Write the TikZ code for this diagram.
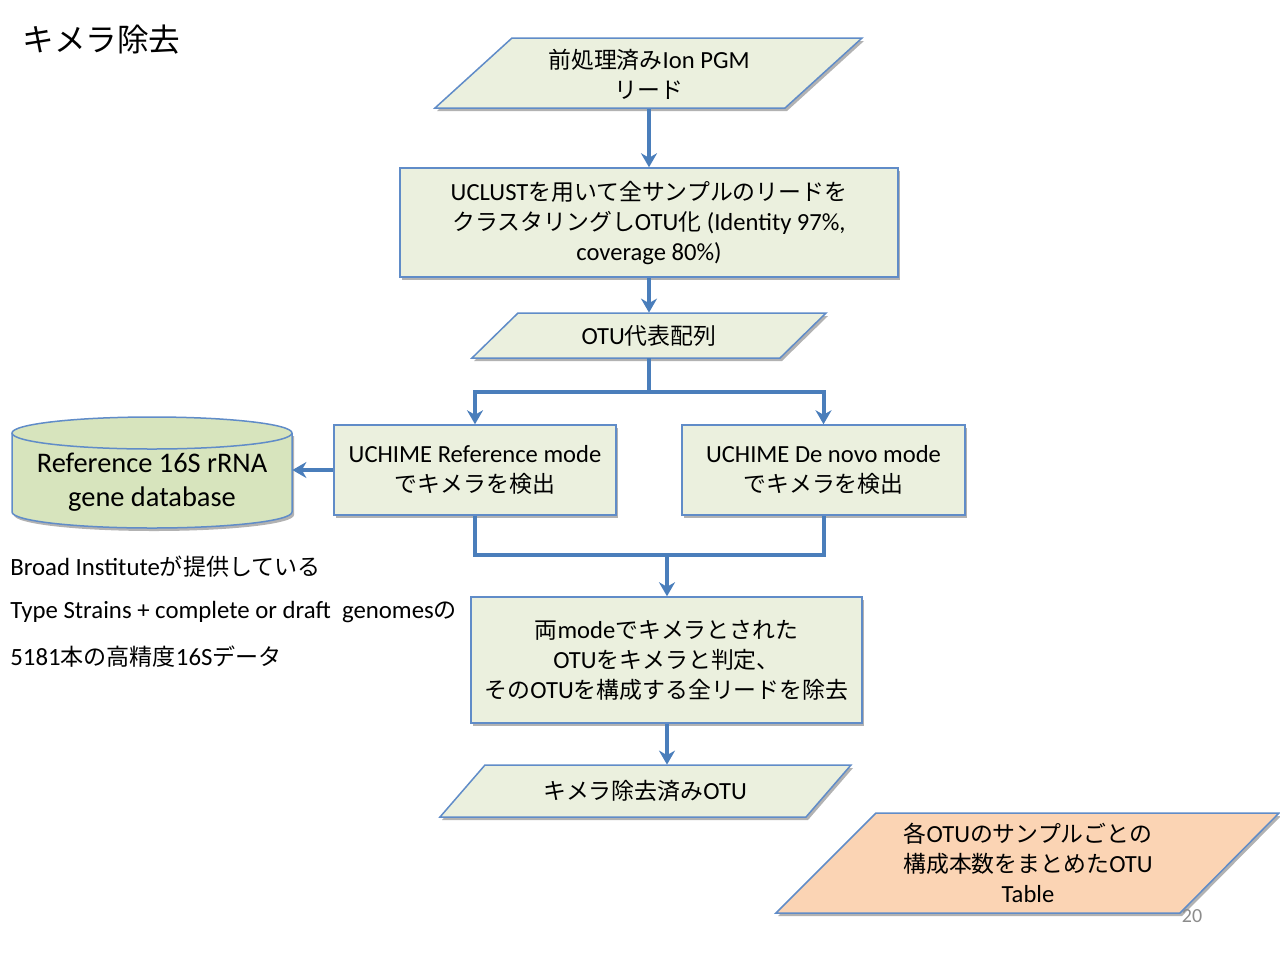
\documentclass[tikz,border=0pt]{standalone}
\usepackage{fontspec}
\setmainfont{Carlito}
\newfontfamily\jp{Noto Sans CJK JP}[Scale=0.93]
\newcommand{\ja}[1]{{\jp #1}}
\usepackage{tikz}
\usetikzlibrary{arrows.meta, shadows, calc}
\definecolor{flowblue}{RGB}{74,126,187}
\definecolor{edgeblue}{RGB}{96,140,200}
\definecolor{boxfill}{RGB}{235,240,222}
\definecolor{dbfill}{RGB}{215,228,189}
\definecolor{tablefill}{RGB}{251,212,180}
\definecolor{pagegray}{RGB}{140,140,140}

\tikzset{
    shade box/.style={drop shadow={shadow xshift=1pt, shadow yshift=-1.5pt, opacity=0.3, fill=black}},
    procbox/.style={draw=edgeblue, line width=0.75pt, fill=boxfill, shade box, align=center,
        font=\fontsize{12.3}{15}\selectfont, inner sep=2pt},
    para/.style={draw=edgeblue, line width=0.75pt, shade box},
    paratext/.style={align=center, font=\fontsize{12.3}{15}\selectfont, inner sep=0pt},
    flow/.style={draw=flowblue, line width=2pt, -{Stealth[length=7pt, width=8pt]}},
    link/.style={draw=flowblue, line width=2pt},
    note/.style={anchor=west, font=\fontsize{12.4}{14}\selectfont, inner sep=0pt}
}

\begin{document}
\begin{tikzpicture}[x=0.5pt, y=-0.5pt]
    \useasboundingbox (0,0) rectangle (1280,960);
    \fill[white] (0,0) rectangle (1280,960);

    \node[anchor=west, inner sep=0pt, font=\fontsize{17}{19}\selectfont] (title) at (22,40) {\ja{キメラ除去}};

    % parallelogram outlines (data / input-output)
    \foreach \a/\b/\c/\d/\ya/\yb/\col in {
        512/862/785/435/38/108/boxfill,    %   reads
        518/826/780/472/313/358/boxfill,   %   representative sequences
        485/851/806/440/765/817/boxfill,   %   chimera-free OTU
        876/1279/1180/776/813/913/tablefill} %   OTU table
        \draw[para, fill=\col] (\a,\ya) -- (\b,\ya) -- (\c,\yb) -- (\d,\yb) -- cycle;

    \node[paratext, minimum height=35pt] (reads) at (649,74) {\ja{前処理済み}Ion PGM\\\ja{リード}};
    \node[paratext, minimum height=22.5pt] (repseq) at (649,335.5) {OTU\ja{代表配列}};
    \node[paratext, minimum height=26pt] (clean) at (645,791) {\ja{キメラ除去済み}OTU};
    \node[paratext, minimum height=50pt] (table) at (1028,863) {\ja{各}OTU\ja{のサンプルごとの}\\\ja{構成本数をまとめた}OTU\\Table};

    % process boxes
    \node[procbox, minimum width=249pt, minimum height=54.5pt] (uclust) at (649,222.5)
        {UCLUST\ja{を用いて全サンプルのリードを}\\\ja{クラスタリングし}OTU\ja{化} (Identity 97\%,\\coverage 80\%)};
    \node[procbox, minimum width=141pt, minimum height=45pt] (refmode) at (475,470)
        {UCHIME Reference mode\\\ja{でキメラを検出}};
    \node[procbox, minimum width=141.5pt, minimum height=45pt] (denovo) at (823.5,470)
        {UCHIME De novo mode\\\ja{でキメラを検出}};
    \node[procbox, minimum width=195.5pt, minimum height=63pt] (judge) at (666.5,660)
        {\ja{両}mode\ja{でキメラとされた}\\OTU\ja{をキメラと判定、}\\\ja{その}OTU\ja{を構成する全リードを除去}};

    % reference database cylinder
    \fill[dbfill, shade box] (12,433) -- (12,512) arc[start angle=180, end angle=0, x radius=140, y radius=16] -- (292,433) -- cycle;
    \draw[edgeblue, line width=0.75pt] (12,433) -- (12,512) arc[start angle=180, end angle=0, x radius=140, y radius=16] -- (292,433);
    \draw[edgeblue, line width=0.75pt, fill=dbfill] (152,433) ellipse[x radius=140, y radius=16];
    \node[align=center, inner sep=0pt, minimum width=140pt, font=\fontsize{14.2}{17}\selectfont] (refdb) at (152,482)
        {Reference 16S rRNA\\gene database};

    \foreach \t [count=\i] in {
        {Broad Institute\ja{が提供している}},
        {Type Strains + complete or draft\ \ genomes\ja{の}},
        {5181\ja{本の高精度}16S\ja{データ}}}
        \node[note] (note\i) at (10,522+45*\i) {\t};

    \node[inner sep=0pt, text=pagegray, font=\fontsize{10}{12}\selectfont] (page) at (1192,916) {20};

    % connectors
    \coordinate (split) at (649,392);
    \coordinate (merge) at (667,555);
    \draw[flow] (reads.south) -- (uclust.north);
    \draw[flow] (uclust.south) -- (repseq.north);
    \draw[link] (repseq.south) -- (split);
    \draw[flow] (split) -| (refmode.north);
    \draw[flow] (split) -| (denovo.north);
    \draw[flow] (refmode.west) -- (refmode.west -| refdb.east);
    \draw[link] (refmode.south) |- (merge) -| (denovo.south);
    \draw[flow] (merge) -- (merge |- judge.north);
    \draw[flow] (judge.south -| merge) -- (merge |- clean.north);
\end{tikzpicture}
\end{document}
